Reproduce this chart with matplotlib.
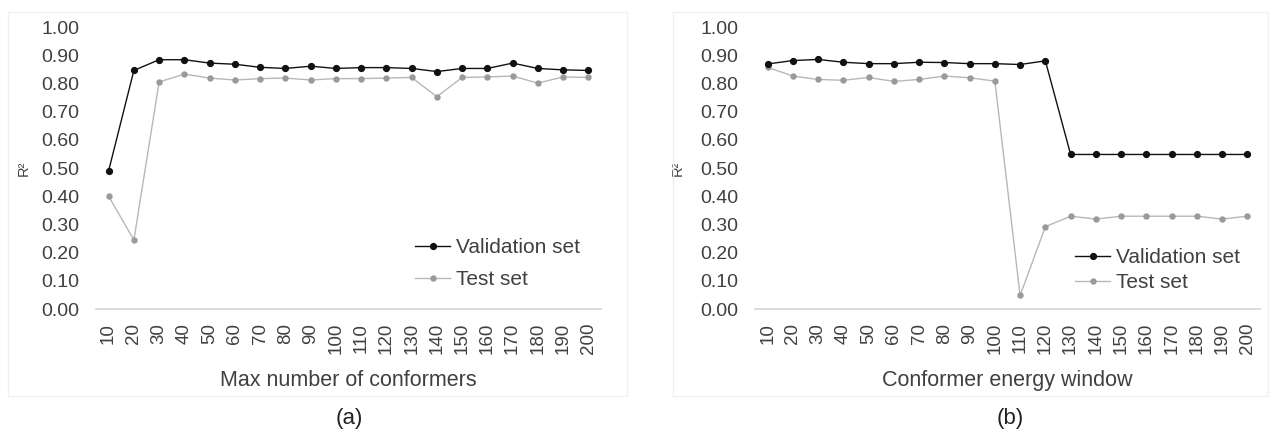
import matplotlib.pyplot as plt
from matplotlib.patches import Rectangle

plt.rcParams["font.family"] = ["Liberation Sans", "DejaVu Sans"]

# x categories shared by both panels
x_labels = [str(v) for v in range(10, 201, 10)]

# (a) max number of conformers
val_a = [0.49, 0.846, 0.884, 0.884, 0.872, 0.868, 0.857, 0.853, 0.861, 0.853,
         0.856, 0.856, 0.853, 0.842, 0.853, 0.853, 0.872, 0.853, 0.848, 0.846]
test_a = [0.40, 0.245, 0.805, 0.833, 0.819, 0.812, 0.817, 0.819, 0.812, 0.817,
          0.817, 0.819, 0.821, 0.753, 0.821, 0.823, 0.826, 0.801, 0.823, 0.821]

# (b) conformer energy window
val_b = [0.869, 0.881, 0.885, 0.875, 0.870, 0.870, 0.875, 0.874, 0.870, 0.870,
         0.867, 0.880, 0.548, 0.548, 0.548, 0.548, 0.548, 0.548, 0.548, 0.548]
test_b = [0.857, 0.826, 0.814, 0.811, 0.821, 0.807, 0.814, 0.826, 0.820, 0.808,
          0.048, 0.292, 0.329, 0.319, 0.329, 0.329, 0.329, 0.329, 0.319, 0.329]

W, H = 1271, 436
fig = plt.figure(figsize=(W / 100, H / 100), dpi=100)

txt = "#404040"


def px_axes(x0, x1, ytop, ybot):
    return fig.add_axes([x0 / W, 1 - ybot / H, (x1 - x0) / W, (ybot - ytop) / H])


# faint chart-area borders
for (x0, x1) in [(8, 627), (673, 1268)]:
    fig.patches.append(Rectangle((x0 / W, 1 - 396 / H), (x1 - x0) / W, (396 - 12) / H,
                                 transform=fig.transFigure, fill=False,
                                 edgecolor="#f0f0f0", linewidth=1))

panels = [
    (px_axes(96, 601, 27, 309), val_a, test_a, "Max number of conformers"),
    (px_axes(755, 1260, 27, 309), val_b, test_b, "Conformer energy window"),
]

xs = list(range(len(x_labels)))
for i, (ax, val, test, xlab) in enumerate(panels):
    ax.plot(xs, val, color="#111111", lw=1.0, marker="o", ms=4.2,
            label="Validation set", zorder=3, clip_on=False)
    ax.plot(xs, test, color="#b8b8b8", lw=1.0, marker="o", ms=3.6,
            markerfacecolor="#9a9a9a", markeredgecolor="#9a9a9a",
            label="Test set", zorder=2, clip_on=False)
    ax.set_xlim(-0.5, len(xs) - 0.5)
    ax.set_ylim(0, 1)
    ax.set_yticks([k / 10 for k in range(11)])
    ax.set_yticklabels(["%.2f" % (k / 10) for k in range(11)])
    ax.set_xticks(xs)
    ax.set_xticklabels(x_labels, rotation=90)
    for s in ["top", "right", "left"]:
        ax.spines[s].set_visible(False)
    ax.spines["bottom"].set_color("#d9d9d9")
    ax.spines["bottom"].set_linewidth(1.3)
    ax.tick_params(axis="both", length=0, colors=txt)
    ax.tick_params(axis="y", labelsize=14, pad=12)
    ax.tick_params(axis="x", labelsize=13.5, pad=10)
    ax.set_xlabel(xlab, fontsize=15.5, color=txt)
    ax.xaxis.set_label_coords(0.5, -0.215)
    ax.set_ylabel("R²", fontsize=10.5, color=txt, rotation=90)
    ax.yaxis.set_label_coords(-0.13 if i == 0 else -0.14, 0.5)
    ax.set_facecolor("none")

    if i == 0:
        anchor, spacing = ((415 - 96) / 505, (309 - 238) / 282), 0.62
    else:
        anchor, spacing = ((1075 - 755) / 505, (309 - 248) / 282), 0.3
    ax.legend(loc="upper left", bbox_to_anchor=anchor, frameon=False,
              fontsize=15, handlelength=1.7, handletextpad=0.25,
              borderpad=0, borderaxespad=0, labelspacing=spacing,
              labelcolor=txt)

fig.text(349 / W, 1 - 418 / H, "(a)", ha="center", va="center", fontsize=16, color="#222222")
fig.text(1010 / W, 1 - 418 / H, "(b)", ha="center", va="center", fontsize=16, color="#222222")

fig.savefig("out.png", dpi=100)
